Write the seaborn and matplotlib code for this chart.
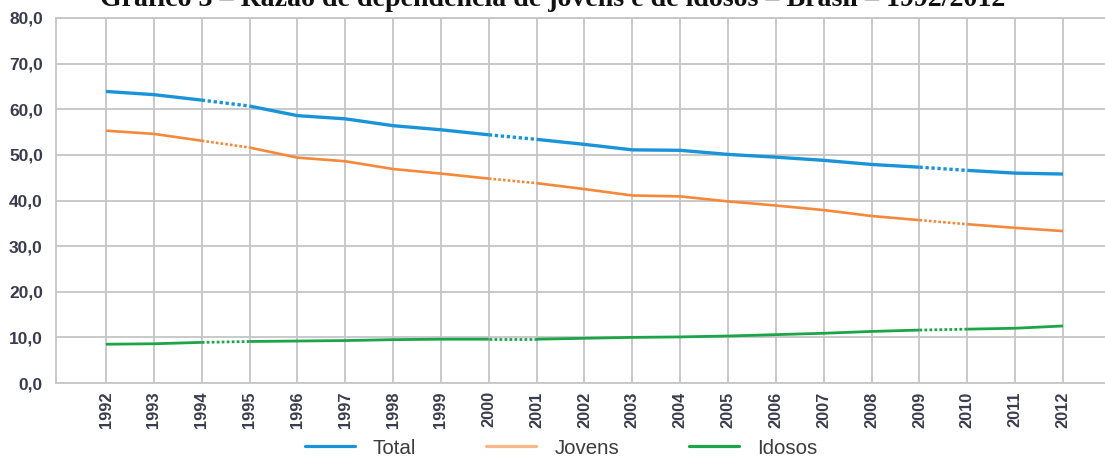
import matplotlib
matplotlib.use("Agg")
import matplotlib.pyplot as plt
import numpy as np
import pandas as pd
import seaborn as sns
from matplotlib.lines import Line2D
from matplotlib.ticker import FuncFormatter

# Razão de dependência (por 100 pessoas de 15 a 64 anos), Brasil
anos = list(range(1992, 2013))
total = [63.9, 63.2, 62.0, 60.7, 58.6, 57.9, 56.4, 55.5, 54.4, 53.4, 52.3,
         51.1, 51.0, 50.1, 49.5, 48.8, 47.9, 47.3, 46.6, 46.0, 45.8]
jovens = [55.3, 54.6, 53.1, 51.6, 49.4, 48.6, 46.9, 45.9, 44.8, 43.8, 42.5,
          41.1, 40.9, 39.8, 38.9, 37.9, 36.6, 35.7, 34.8, 34.0, 33.3]
idosos = [8.5, 8.6, 8.9, 9.1, 9.2, 9.3, 9.5, 9.6, 9.6, 9.6, 9.8,
          10.0, 10.1, 10.3, 10.6, 10.9, 11.3, 11.6, 11.8, 12.0, 12.5]
series_nomes = ["Total", "Jovens", "Idosos"]

# intervalos ligados por traço pontilhado (anos sem pesquisa)
trechos_pontilhados = [(1994, 1995), (2000, 2001), (2009, 2010)]
trechos_continuos = [(1992, 1994), (1995, 2000), (2001, 2009), (2010, 2012)]

titulo = "Gráfico 3 – Razão de dependência de jovens e de idosos – Brasil – 1992/2012"

cores = {"Total": "#1a94d8", "Jovens": "#f5883a", "Idosos": "#1ba548"}
cores_legenda = {"Total": "#1a94d8", "Jovens": "#f8b88c", "Idosos": "#1ba548"}
larguras = {"Total": 2.4, "Jovens": 1.9, "Idosos": 2.0}

sns.set_style("white")
plt.rcParams["font.family"] = ["Liberation Sans", "DejaVu Sans"]

df = pd.DataFrame({"ano": anos, "Total": total, "Jovens": jovens, "Idosos": idosos})
longo = df.melt(id_vars="ano", var_name="serie", value_name="valor")

W, H = 1105, 457
fig = plt.figure(figsize=(W / 100, H / 100), dpi=100)
ax = fig.add_axes([56 / W, 1 - 383 / H, 1 - 56 / W, (383 - 18) / H])

grade = "#c5c5c8"
ax.set_axisbelow(True)
ax.grid(True, color=grade, linewidth=1.3)

for nome in series_nomes:
    sub = longo[longo["serie"] == nome]
    for a, b in trechos_continuos:
        seg = sub[(sub["ano"] >= a) & (sub["ano"] <= b)]
        sns.lineplot(data=seg, x="ano", y="valor", ax=ax, color=cores[nome],
                     linewidth=larguras[nome], solid_capstyle="butt",
                     legend=False, estimator=None)
    for a, b in trechos_pontilhados:
        seg = sub[(sub["ano"] >= a) & (sub["ano"] <= b)]
        sns.lineplot(data=seg, x="ano", y="valor", ax=ax, color=cores[nome],
                     linewidth=larguras[nome], linestyle=(0, (1.0, 0.8)),
                     dash_capstyle="butt", legend=False, estimator=None)

ax.set_xlim(1990.955, 2012.878)
ax.set_ylim(0, 80)
ax.set_yticks(np.arange(0, 81, 10))
ax.yaxis.set_major_formatter(FuncFormatter(lambda v, p: f"{v:.1f}".replace(".", ",")))
ax.set_xticks(anos)
ax.set_xticklabels([str(a) for a in anos], rotation=90)
ax.set_xlabel("")
ax.set_ylabel("")

cor_texto = "#3a3b4c"
ax.tick_params(axis="y", length=0, pad=9.5, labelsize=12.5, labelcolor=cor_texto)
ax.tick_params(axis="x", length=0, pad=6, labelsize=11.8, labelcolor=cor_texto)
for lbl in ax.get_yticklabels() + ax.get_xticklabels():
    lbl.set_fontweight("bold")

for s in ["left", "bottom", "top"]:
    ax.spines[s].set_color(grade)
    ax.spines[s].set_linewidth(1.3)
ax.spines["right"].set_visible(False)

# legenda
alcas = [Line2D([0], [0], color=cores_legenda[n], linewidth=2.3) for n in series_nomes]
leg = fig.legend(alcas, series_nomes, loc="center", bbox_to_anchor=(561 / W, 1 - 448 / H),
                 ncol=3, frameon=False, fontsize=14.8, handlelength=2.44,
                 handletextpad=0.88, columnspacing=3.4)
for t in leg.get_texts():
    t.set_color("#3c3c3c")

# título (parte superior fora da área da figura)
tt = fig.text(553 / W, 1 - 5.5 / H, titulo, ha="center", va="baseline",
              family=["Liberation Serif", "DejaVu Serif"], fontweight="bold",
              fontsize=17, color="#111111")
fig.canvas.draw()
larg = tt.get_window_extent().width
tt.set_fontsize(17 * 902 / larg)

fig.savefig("out.png", dpi=100)
